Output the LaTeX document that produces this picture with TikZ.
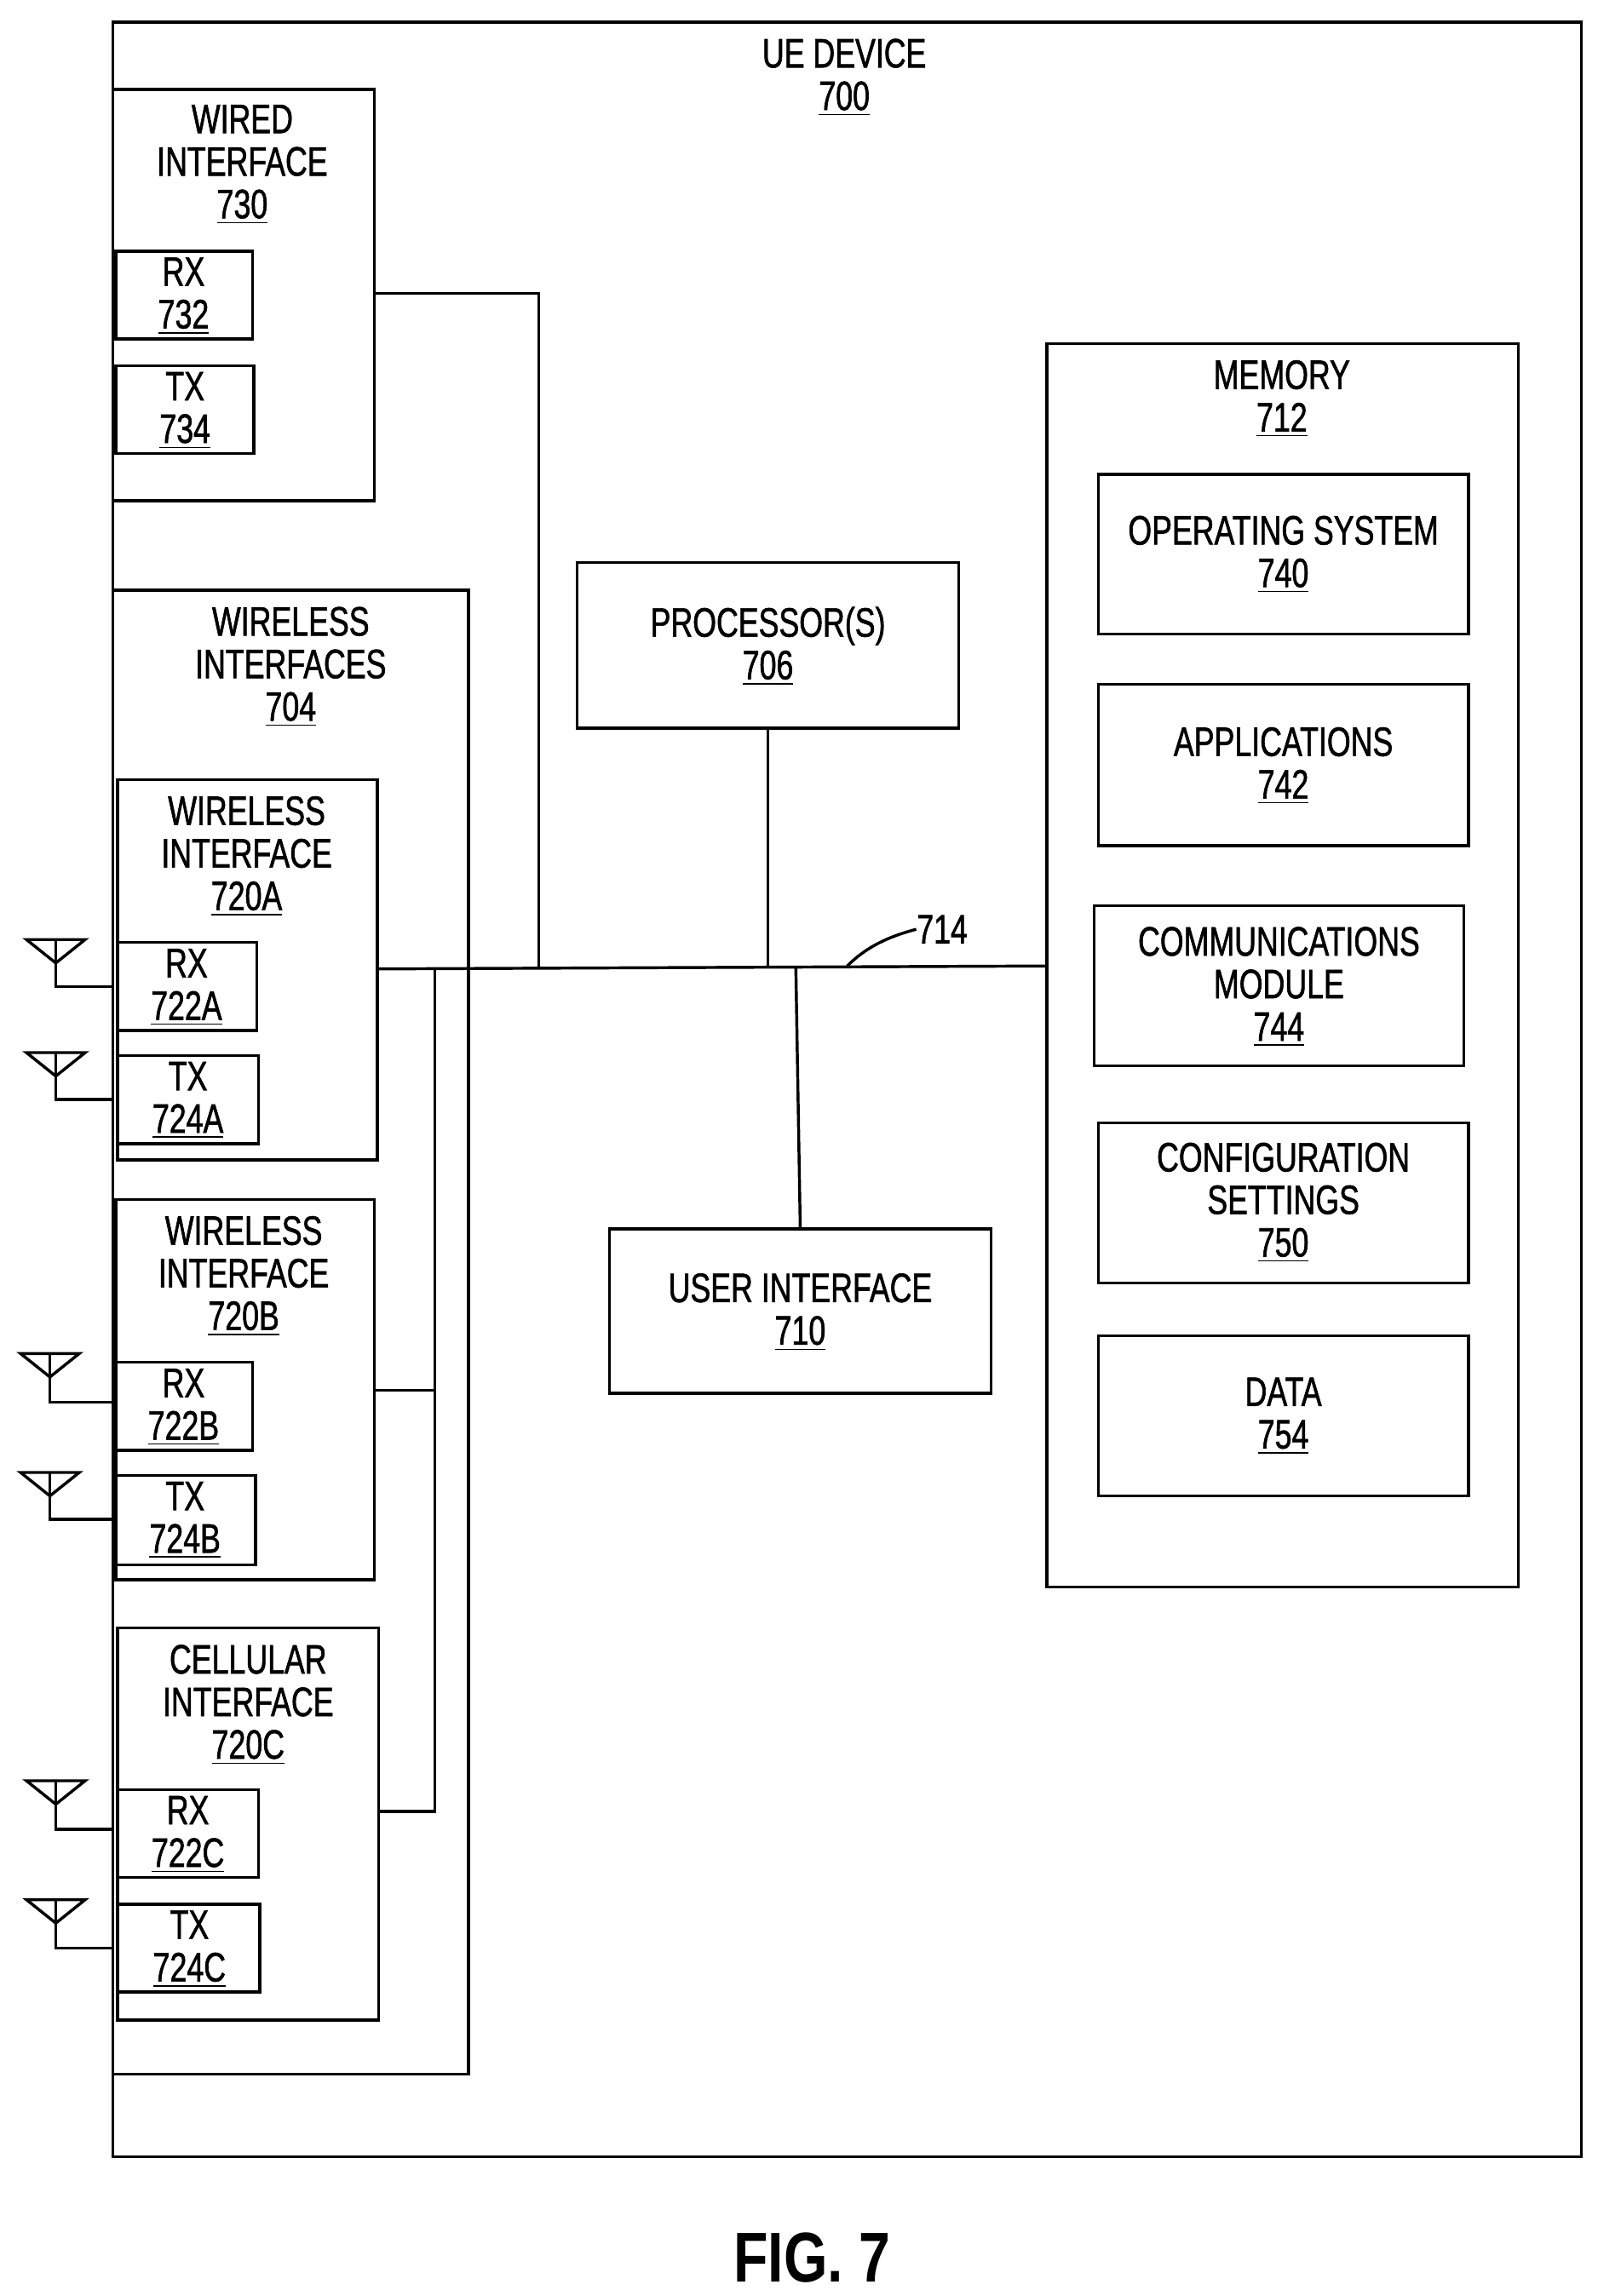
\documentclass[tikz,border=0pt]{standalone}
\usepackage{fontspec}
\setmainfont[FakeStretch=0.74,FakeBold=1.2]{Liberation Sans}
\newfontfamily\figfont[FakeStretch=0.8]{Liberation Sans Bold}
\usetikzlibrary{fit}
\begin{document}
\begin{tikzpicture}[x=0.5pt,y=-0.5pt,
  box/.style={draw,line width=1pt,inner sep=-0.5pt},
  lbl/.style={align=center,font=\fontsize{14}{14.5}\selectfont,inner sep=0pt,anchor=north},
  ln/.style={line width=1pt},
  ant/.style={line width=1pt}]
\useasboundingbox (0,0) rectangle (1088,1564);
\newcommand{\bx}[5]{\node[box,fit={(#2,#3)(#4,#5)}] (#1) {};}
\newcommand{\un}[1]{\underline{#1}}
% outer
\bx{ue}{76}{14}{1078}{1470}
\node[lbl] (tue) at (575,26) {UE DEVICE\\\un{700}};
% wired
\bx{wired}{76}{60}{256}{342}
\node[lbl] (twired) at (165,71) {WIRED\\INTERFACE\\\un{730}};
\bx{rx732}{78}{170}{173}{232}
\node[lbl] (trx732) at (125,175) {RX\\\un{732}};
\bx{tx734}{78}{248}{174}{310}
\node[lbl] (ttx734) at (126,253) {TX\\\un{734}};
% wireless interfaces
\bx{wi}{76}{401}{320}{1414}
\node[lbl] (twi) at (198,413) {WIRELESS\\INTERFACES\\\un{704}};
\bx{a}{79}{530}{258}{791}
\node[lbl] (ta) at (168,542) {WIRELESS\\INTERFACE\\\un{720A}};
\bx{rxa}{79}{641}{176}{703}
\node[lbl] (trxa) at (127,646) {RX\\\un{722A}};
\bx{txa}{79}{718}{177}{780}
\node[lbl] (ttxa) at (128,723) {TX\\\un{724A}};
\bx{b}{78}{816}{256}{1077}
\node[lbl] (tb) at (166,828) {WIRELESS\\INTERFACE\\\un{720B}};
\bx{rxb}{78}{927}{173}{989}
\node[lbl] (trxb) at (125,932) {RX\\\un{722B}};
\bx{txb}{78}{1004}{175}{1067}
\node[lbl] (ttxb) at (126,1009) {TX\\\un{724B}};
\bx{c}{79}{1108}{259}{1377}
\node[lbl] (tc) at (169,1120) {CELLULAR\\INTERFACE\\\un{720C}};
\bx{rxc}{79}{1218}{177}{1280}
\node[lbl] (trxc) at (128,1223) {RX\\\un{722C}};
\bx{txc}{79}{1296}{178}{1358}
\node[lbl] (ttxc) at (129,1301) {TX\\\un{724C}};
% processor, UI
\bx{proc}{392}{382}{654}{497}
\node[lbl] (tproc) at (523,413) {PROCESSOR(S)\\\un{706}};
\bx{ui}{414}{836}{676}{950}
\node[lbl] (tui) at (545,867) {USER INTERFACE\\\un{710}};
% memory
\bx{mem}{712}{233}{1035}{1082}
\node[lbl] (tmem) at (873,245) {MEMORY\\\un{712}};
\bx{os}{747}{322}{1001}{433}
\node[lbl] (tos) at (874,351) {OPERATING SYSTEM\\\un{740}};
\bx{app}{747}{465}{1001}{577}
\node[lbl] (tapp) at (874,495) {APPLICATIONS\\\un{742}};
\bx{comm}{744}{616}{998}{727}
\node[lbl] (tcomm) at (871,631) {COMMUNICATIONS\\MODULE\\\un{744}};
\bx{cfg}{747}{764}{1001}{875}
\node[lbl] (tcfg) at (874,778) {CONFIGURATION\\SETTINGS\\\un{750}};
\bx{data}{747}{909}{1001}{1020}
\node[lbl] (tdata) at (874,938) {DATA\\\un{754}};
% bus
\coordinate (busL) at (258,660);
\coordinate (busR) at (712,658);
\draw[ln] (busL) -- (busR);
\draw[ln] (wired.east |- 0,200) -- (367,200) -- (367,659);
\draw[ln] (proc.south) -- (523,659);
\draw[ln] (542,659) -- (ui.north);
\draw[ln] (296,660) -- (296,1234) -- (c.east |- 0,1234);
\draw[ln] (b.east |- 0,947) -- (296,947);
\node[font=\fontsize{14}{14}\selectfont,anchor=west,inner sep=0pt] (l714) at (624,633) {714};
\draw[ln] (577,658) .. controls (590,645) and (605,638) .. (l714.west);
% antennas
\newcommand{\antenna}[4]{% name, cx, top y, horizontal y
  \coordinate (#1) at (#2,#4);
  \draw[ant] (#2-20,#3) -- (#2+20,#3) -- (#2,#3+16) -- cycle;
  \draw[ant] (#2,#3) -- (#2,#4) -- (76,#4);}
\antenna{anrxa}{38}{640}{672}
\antenna{antxa}{38}{717}{749}
\antenna{anrxb}{34}{922}{955}
\antenna{antxb}{34}{1003}{1035}
\antenna{anrxc}{38}{1213}{1246}
\antenna{antxc}{38}{1294}{1327}
\node[font=\fontsize{24}{24}\selectfont\figfont,inner sep=0pt] (fig) at (553,1538) {FIG. 7};
\end{tikzpicture}
\end{document}
